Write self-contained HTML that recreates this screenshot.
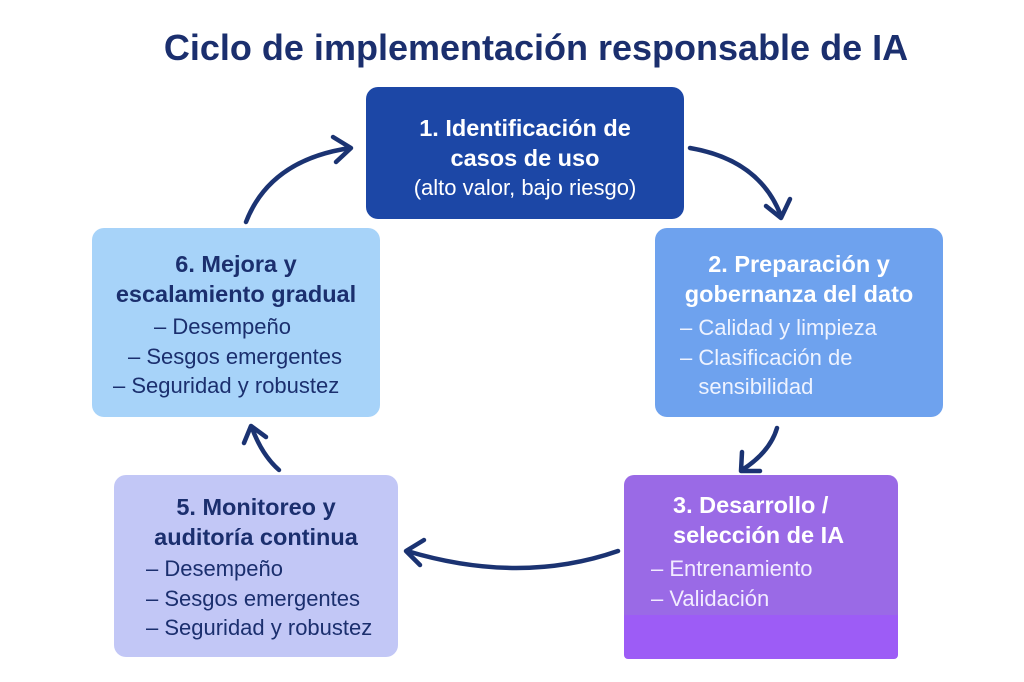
<!DOCTYPE html>
<html><head><meta charset="utf-8"><style>
body{margin:0;width:1024px;height:682px;background:#fff;position:relative;overflow:hidden;font-family:"Liberation Sans","DejaVu Sans",sans-serif}
.t{position:absolute;left:0;width:1024px;top:27px;text-align:center;font-size:36px;font-weight:bold;color:#1b2f6e;padding-left:48px;box-sizing:border-box;white-space:nowrap}
.b{position:absolute;border-radius:12px;box-sizing:border-box;font-size:22px;line-height:29.5px;white-space:nowrap}
.h{font-weight:bold;font-size:23.5px}
</style></head><body>
<div class="t">Ciclo de implementación responsable de IA</div>
<div class="b" style="left:366px;top:87px;width:318px;height:132px;background:#1c47a6;color:#fff;text-align:center;padding-top:27px">
<div class="h">1. Identificación de<br>casos de uso</div><div>(alto valor, bajo riesgo)</div></div>
<div class="b" style="left:655px;top:228px;width:288px;height:189px;background:#6ea2ee;color:#fff;padding-top:22px">
<div class="h" style="text-align:center">2. Preparación y<br>gobernanza del dato</div>
<div style="padding-left:25px;color:#eef3ff;margin-top:4px">– Calidad y limpieza<br>– Clasificación de<br>&nbsp;&nbsp;&nbsp;sensibilidad</div></div>
<div class="b" style="left:624px;top:475px;width:274px;height:184px;background:linear-gradient(#9a6ae6 0,#9a6ae6 76%,#9d5cf6 76%);color:#fff;padding-top:16px;border-radius:10px 10px 4px 4px">
<div class="h" style="padding-left:49px">3. Desarrollo /<br>selección de IA</div>
<div style="padding-left:27px;margin-top:4px;color:#f2ecff">– Entrenamiento<br>– Validación</div></div>
<div class="b" style="left:114px;top:475px;width:284px;height:182px;background:#c2c7f6;color:#1b2f6e;padding-top:18px">
<div class="h" style="text-align:center">5. Monitoreo y<br>auditoría continua</div>
<div style="padding-left:32px;margin-top:2px">– Desempeño<br>– Sesgos emergentes<br>– Seguridad y robustez</div></div>
<div class="b" style="left:92px;top:228px;width:288px;height:189px;background:#a7d3f9;color:#1b2f6e;padding-top:22px">
<div class="h" style="text-align:center">6. Mejora y<br>escalamiento gradual</div>
<div style="margin-top:3px"><span style="padding-left:62px">– Desempeño</span><br><span style="padding-left:36px">– Sesgos emergentes</span><br><span style="padding-left:21px">– Seguridad y robustez</span></div></div>
<svg width="1024" height="682" style="position:absolute;left:0;top:0" fill="none" stroke="#1b3372" stroke-width="4.5" stroke-linecap="round" stroke-linejoin="round">
<path d="M246 222 Q270 160 350 148"/><path d="M333 137 L351 148 L336 162"/>
<path d="M690 148 Q760 160 781 216"/><path d="M766 206 L781 218 L790 199"/>
<path d="M777 428 Q770 452 742 470"/><path d="M742 452 L741 471 L760 471"/>
<path d="M618 551 Q520 585 407 551"/><path d="M424 540 L406 551 L420 565"/>
<path d="M279 470 Q262 455 252 428"/><path d="M244 443 L251 426 L266 437"/>
</svg>
</body></html>
